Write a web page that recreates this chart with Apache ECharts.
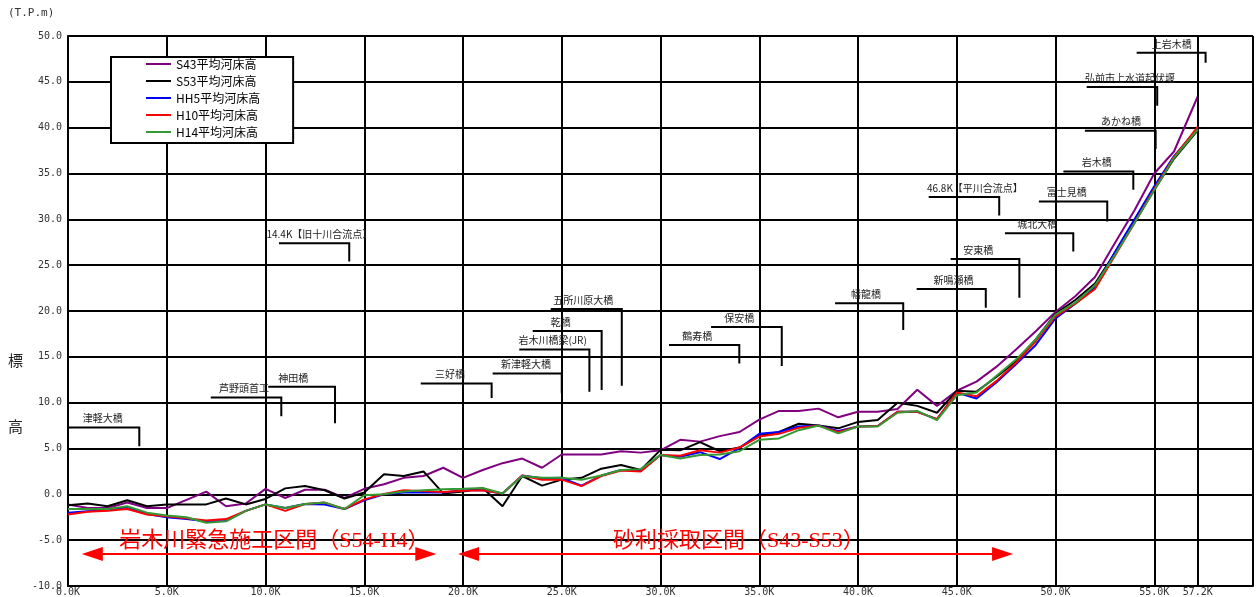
<!DOCTYPE html>
<html><head><meta charset="utf-8">
<script src="https://cdn.jsdelivr.net/npm/echarts@6/dist/echarts.min.js"></script>
<style>html,body{margin:0;padding:0;background:#fff}#c{width:1258px;height:597px}</style>
</head><body><div id="c"></div>
<script>
// distance (km) of each surveyed section
const kmPoints = [0,1,2,3,4,5,6,7,8,9,10,11,12,13,14,15,16,17,18,19,20,21,22,23,24,25,26,27,28,29,30,31,32,33,34,35,36,37,38,39,40,41,42,43,44,45,46,47,48,49,50,51,52,53,54,55,56,57.2];
const seriesNames = ['S43平均河床高','S53平均河床高','HH5平均河床高','H10平均河床高','H14平均河床高'];
const s43 = [-1.1,-1.5,-1.5,-0.9,-1.5,-1.5,-0.6,0.3,-1.3,-1.0,
  0.6,-0.4,0.5,0.5,-0.4,0.6,1.1,1.8,2.0,2.9,
  1.8,2.65,3.4,3.9,2.9,4.35,4.35,4.35,4.7,4.55,
  4.8,5.95,5.75,6.35,6.8,8.15,9.1,9.1,9.35,8.4,
  9.0,9.0,9.3,11.4,9.65,11.3,12.3,13.9,15.8,17.8,
  19.9,21.6,23.7,27.4,31.0,35.0,37.4,
  43.4];
const s53 = [-1.2,-1.0,-1.3,-0.65,-1.3,-1.1,-1.1,-1.1,-0.45,-1.1,
  -0.5,0.65,0.9,0.45,-0.45,0.2,2.2,2.0,2.5,0.1,
  0.3,0.7,-1.3,2.0,0.95,1.6,1.8,2.8,3.2,2.65,
  4.85,4.8,5.7,4.7,5.1,6.4,6.8,7.7,7.5,7.2,
  7.9,8.1,10.0,9.65,8.9,11.3,11.2,12.8,14.5,16.9,
  19.7,21.2,23.0,26.3,29.7,33.2,36.6,
  39.7];
const hh5 = [-2.0,-1.85,-1.75,-1.4,-2.15,-2.5,-2.7,-2.95,-2.9,-1.8,
  -1.1,-1.5,-1.05,-1.1,-1.6,-0.65,0.0,0.2,0.2,0.2,
  0.45,0.45,0.1,2.05,1.75,1.8,0.95,2.05,2.65,2.55,
  4.3,4.1,4.6,3.85,5.05,6.6,6.8,7.4,7.5,6.9,
  7.4,7.45,9.0,9.0,8.2,11.1,10.45,12.2,14.2,16.3,
  19.2,20.8,22.6,26.4,30.0,33.6,36.9,
  39.9];
const h10 = [-2.2,-1.9,-1.8,-1.6,-2.2,-2.4,-2.6,-2.85,-2.7,-1.8,
  -1.1,-1.8,-1.05,-0.9,-1.6,-0.55,0.05,0.45,0.35,0.25,
  0.4,0.45,0.1,2.05,1.6,1.6,0.9,2.0,2.6,2.5,
  4.3,4.2,4.8,4.55,5.1,6.3,6.6,7.25,7.5,6.8,
  7.4,7.45,9.0,9.0,8.2,11.1,10.7,12.35,14.35,16.7,
  19.4,20.8,22.4,26.0,29.6,33.3,36.8,
  40.1];
const h14 = [-1.6,-1.6,-1.6,-1.3,-2.0,-2.3,-2.5,-3.1,-2.95,-1.8,
  -1.1,-1.5,-1.05,-0.9,-1.6,-0.1,0.0,0.3,0.45,0.55,
  0.6,0.7,0.1,2.0,1.8,1.8,1.6,2.05,2.65,2.75,
  4.3,3.9,4.3,4.35,4.7,5.95,6.1,7.0,7.5,6.65,
  7.4,7.4,8.9,9.1,8.1,10.8,11.1,12.9,14.7,16.9,
  19.6,20.9,22.8,26.1,29.6,33.2,36.7,
  39.8];
const extraTickKm = 57.2;   // final section, has its own grid line and label

// bridge / landmark annotations (km and elevation in data units)
const bridgeNames   = ['津軽大橋','芦野頭首工','神田橋','14.4K【旧十川合流点】','三好橋','新津軽大橋','岩木川橋梁(JR)','乾橋','五所川原大橋','鶴寿橋','保安橋','幡龍橋','新鳴瀬橋','安東橋','46.8K【平川合流点】','城北大橋','富士見橋','岩木橋','あかね橋','弘前市上水道起伏堰','上岩木橋'];
const bridgeKm      = [3.61,10.80,13.52,14.24,21.45,25.00,26.40,27.02,28.04,33.99,36.14,42.29,46.47,48.17,47.15,50.90,52.62,53.94,55.07,55.15,57.60];
const bridgeLeadKm  = [0.05,7.23,10.14,10.68,17.86,21.50,22.85,23.53,24.44,30.43,32.56,38.84,42.97,44.69,43.58,47.44,49.16,50.40,51.49,51.58,54.11];
const bridgeLabelKm = [1.76,8.91,11.41,12.73,19.34,23.19,24.54,24.95,26.09,31.86,33.99,40.41,44.83,46.09,45.92,49.08,50.57,52.09,53.32,53.77,55.88];
const bridgeLabelEl = [7.29,10.57,11.73,27.40,12.10,13.19,15.81,17.81,20.22,16.28,18.25,20.84,22.40,25.68,32.43,28.49,31.95,35.22,39.67,44.45,48.16];
const bridgePointEl = [5.25,8.52,7.76,25.39,10.52,11.01,11.18,11.37,11.84,14.28,13.99,17.92,20.36,21.45,30.42,26.48,29.76,33.22,37.67,42.40,47.07];

// work sections shown with double arrows
const sectionNames   = ['岩木川緊急施工区間（S54-H4）','砂利採取区間（S43-S53）'];
const sectionFromKm  = [0.7,19.75];
const sectionToKm    = [18.65,47.85];
const sectionLabelKm = [10.45,33.97];
const sectionArrowEl = [-6.5,-6.5];

const colors = ['#800080','#000000','#0000ff','#ff0000','#339933'];
const valueSets = [s43,s53,hh5,h10,h14];

const chart = echarts.init(document.getElementById('c'));
const lineSeries = seriesNames.map((n,si)=>({
  name:n, type:'line', symbol:'none', z:3+si,
  data: kmPoints.map((k,i)=>[k,valueSets[si][i]]),
  lineStyle:{color:colors[si],width:2}, itemStyle:{color:colors[si]},
  animation:false
}));
lineSeries[0].markLine = {
  silent:true, symbol:'none', animation:false,
  lineStyle:{color:'#000',width:2,type:'solid'},
  label:{show:true,position:'start',distance:1,formatter:extraTickKm.toFixed(1)+'K',
    fontFamily:'DejaVu Sans Mono',fontSize:10,color:'#333'},
  data:[{xAxis:extraTickKm}]
};

const bridgeSeries = {
  type:'custom', silent:true, z:2, animation:false, clip:false,
  data: bridgeNames.map((n,i)=>[bridgeKm[i],bridgeLabelEl[i],bridgeLeadKm[i],bridgePointEl[i],bridgeLabelKm[i]]),
  renderItem:(params,api)=>{
    const i = params.dataIndex;
    const p1 = api.coord([api.value(2),api.value(1)]);
    const p2 = api.coord([api.value(0),api.value(1)]);
    const p3 = api.coord([api.value(0),api.value(3)]);
    const pt = api.coord([api.value(4),api.value(1)]);
    return {type:'group',children:[
      {type:'polyline',shape:{points:[p1,p2,p3]},style:{stroke:'#000',lineWidth:2,fill:null}},
      {type:'text',style:{text:bridgeNames[i],x:pt[0],y:pt[1]-9,align:'center',verticalAlign:'middle',
        fontSize:10,fontFamily:'Noto Sans CJK JP',fill:'#222'}}
    ]};
  }
};

const sectionSeries = {
  type:'custom', silent:true, z:2, animation:false, clip:false,
  data: sectionNames.map((n,i)=>[sectionFromKm[i],sectionArrowEl[i],sectionToKm[i],sectionLabelKm[i]]),
  renderItem:(params,api)=>{
    const i = params.dataIndex;
    const a = api.coord([api.value(0),api.value(1)]);
    const b = api.coord([api.value(2),api.value(1)]);
    const t = api.coord([api.value(3),api.value(1)]);
    const L = 21, H = 7;
    return {type:'group',children:[
      {type:'line',shape:{x1:a[0]+L-2,y1:a[1],x2:b[0]-L+2,y2:b[1]},style:{stroke:'#ff0000',lineWidth:2}},
      {type:'polygon',shape:{points:[[a[0],a[1]],[a[0]+L,a[1]-H],[a[0]+L,a[1]+H]]},style:{fill:'#ff0000'}},
      {type:'polygon',shape:{points:[[b[0],b[1]],[b[0]-L,b[1]-H],[b[0]-L,b[1]+H]]},style:{fill:'#ff0000'}},
      {type:'text',style:{text:sectionNames[i],x:t[0],y:t[1]-13,align:'center',verticalAlign:'middle',
        fontSize:22,fontFamily:"'Liberation Serif','Noto Sans CJK JP'",fill:'#ff0000'}}
    ]};
  }
};

chart.setOption({
  animation:false,
  backgroundColor:'#fff',
  grid:{left:68,right:5,top:36,bottom:11,containLabel:false},
  xAxis:{type:'value',min:0,max:60,interval:5,
    axisLine:{show:true,onZero:false,lineStyle:{color:'#000',width:2}},
    axisTick:{show:false},
    splitLine:{show:true,lineStyle:{color:'#000',width:2}},
    axisLabel:{margin:1,fontFamily:'DejaVu Sans Mono',fontSize:10,color:'#333',
      formatter:v=> v>55 ? '' : v.toFixed(1)+'K'}
  },
  yAxis:{type:'value',min:-10,max:50,interval:5,
    axisLine:{show:true,onZero:false,lineStyle:{color:'#000',width:2}},
    axisTick:{show:false},
    splitLine:{show:true,lineStyle:{color:'#000',width:2}},
    axisLabel:{margin:6,fontFamily:'DejaVu Sans Mono',fontSize:10,color:'#333',
      formatter:v=>v.toFixed(1)}
  },
  legend:{
    data:seriesNames, orient:'vertical', left:111, top:57,
    backgroundColor:'#fff', borderColor:'#000', borderWidth:2,
    padding:[1,33,5,35], itemGap:5, itemWidth:25, itemHeight:2, icon:'rect',
    textStyle:{fontFamily:"'Noto Sans CJK JP'",fontSize:12,lineHeight:12,color:'#000'}
  },
  graphic:[
    {type:'text',left:8,top:8,style:{text:'(T.P.m)',fontFamily:'DejaVu Sans Mono',fontSize:11,fill:'#333'}},
    {type:'text',left:8,top:353,style:{text:'標',fontFamily:'Noto Sans CJK JP',fontSize:15,fill:'#222'}},
    {type:'text',left:8,top:419,style:{text:'高',fontFamily:'Noto Sans CJK JP',fontSize:15,fill:'#222'}}
  ],
  series:[...lineSeries, bridgeSeries, sectionSeries]
});
</script></body></html>
